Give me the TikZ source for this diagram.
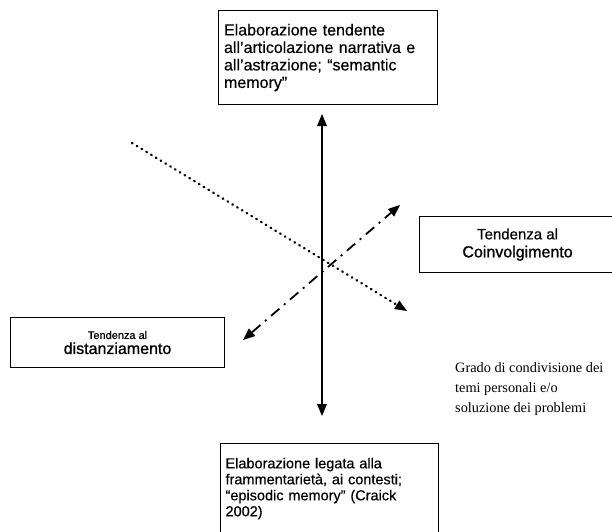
\documentclass[tikz,border=0pt]{standalone}
\usepackage{fontspec}
\setmainfont{Liberation Serif}
\setsansfont{Liberation Sans}[FakeBold=0.4]
\usetikzlibrary{arrows.meta}
\begin{document}
\begin{tikzpicture}[x=1pt,y=-1pt,
  box/.style={draw, line width=1.1pt, inner sep=0pt, font=\sffamily},
  >={Triangle[length=12pt,width=10pt,line width=0pt,line cap=butt]}]
\useasboundingbox (0,0) rectangle (612,531);
% boxes
\node[box, anchor=north west, minimum width=219pt, minimum height=94pt,
      text width=208pt, align=left, font=\sffamily\fontsize{16}{17.5}\selectfont]
  (top) at (218,10) {Elaborazione tendente\\all'articolazione narrativa e\\all'astrazione; “semantic\\memory”};
\node[box, anchor=north west, minimum width=196pt, minimum height=56pt,
      align=center]
  (right) at (419,216) {{\fontsize{15}{17}\selectfont Tendenza al}\\[6pt]{\fontsize{16}{18}\selectfont\addfontfeature{FakeBold=1.2}Coinvolgimento}};
\node[box, anchor=north west, minimum width=214pt, minimum height=50pt,
      align=center]
  (left) at (10,317) {{\fontsize{11}{12}\selectfont Tendenza al}\\[3pt]{\fontsize{16}{18}\selectfont\addfontfeature{FakeBold=1}distanziamento}};
\node[box, anchor=north west, minimum width=218pt, minimum height=90pt,
      text width=208pt, align=left, font=\sffamily\fontsize{14.5}{16}\selectfont]
  (bottom) at (220,443) {Elaborazione legata alla\\frammentarietà, ai contesti;\\“episodic memory” (Craick\\2002)};
% text
\node[anchor=north west, align=left, inner sep=0pt, font=\fontsize{14.3}{20}\selectfont]
  (grado) at (455,362) {Grado di condivisione dei\\temi personali e/o\\soluzione dei problemi};
% connectors
\coordinate (vtop) at (322,114);
\coordinate (vbot) at (322,416);
\coordinate (dotA) at (132,143);
\coordinate (dotB) at (407,311);
\coordinate (ddA) at (243,340);
\coordinate (ddB) at (400,205);
\draw[line width=1.1pt, <->] (vtop) -- (vbot);
\draw[line width=2.4pt, dash pattern=on 0.6pt off 5pt, line cap=round, ->] (dotA) -- (dotB);
\draw[line width=1.8pt, dash pattern=on 11pt off 6pt on 2pt off 6pt, <->] (ddA) -- (ddB);
\end{tikzpicture}
\end{document}
